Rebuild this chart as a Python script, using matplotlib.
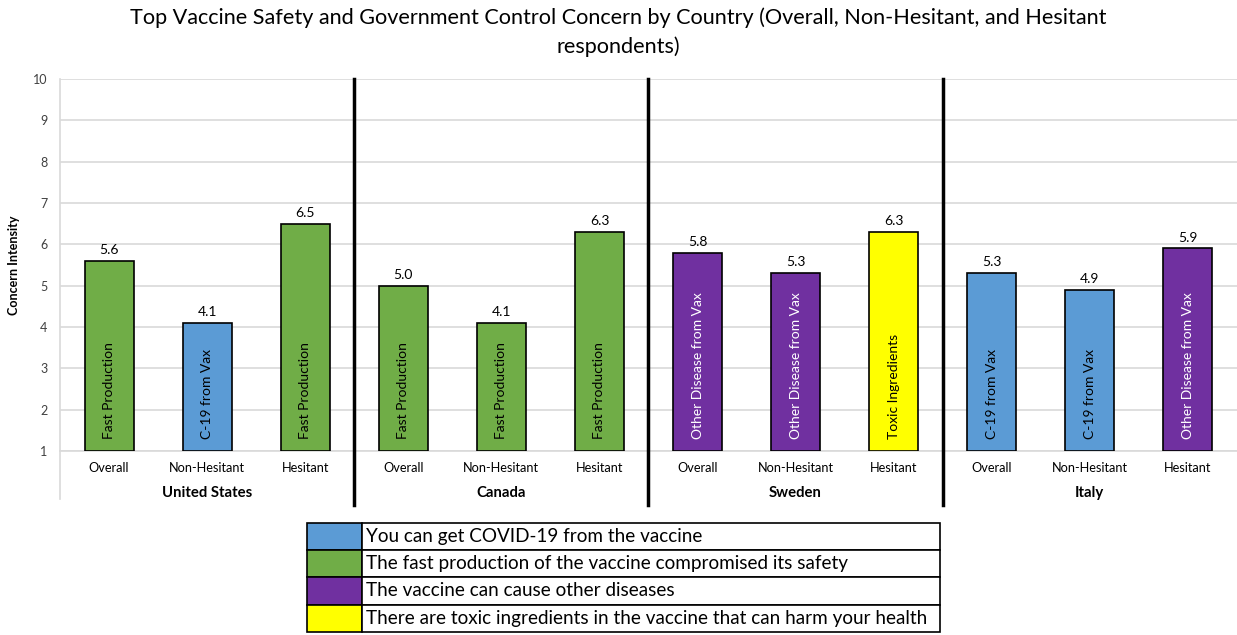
"""Top vaccine safety concern by country, grouped bar chart."""

import matplotlib
matplotlib.use("Agg")
import matplotlib.pyplot as plt
from matplotlib.patches import Rectangle
import numpy as np

plt.rcParams['font.family'] = ['Lato', 'DejaVu Sans']

countries = ['United States', 'Canada', 'Sweden', 'Italy']
groups = ['Overall', 'Non-Hesitant', 'Hesitant']
values = [5.6, 4.1, 6.5,
          5.0, 4.1, 6.3,
          5.8, 5.3, 6.3,
          5.3, 4.9, 5.9]
concern = ['fast', 'c19', 'fast',
           'fast', 'fast', 'fast',
           'other', 'other', 'toxic',
           'c19', 'c19', 'other']

short_names = {'c19': 'C-19 from Vax', 'fast': 'Fast Production',
               'other': 'Other Disease from Vax', 'toxic': 'Toxic Ingredients'}
colors = {'c19': '#5B9BD5', 'fast': '#70AD47', 'other': '#7030A0', 'toxic': '#FFFF00'}
text_colors = {'c19': 'black', 'fast': 'black', 'other': 'white', 'toxic': 'black'}
legend_keys = ['c19', 'fast', 'other', 'toxic']
legend_labels = ['You can get COVID-19 from the vaccine',
                 'The fast production of the vaccine compromised its safety',
                 'The vaccine can cause other diseases',
                 'There are toxic ingredients in the vaccine that can harm your health']

W, H = 1237, 635
fig = plt.figure(figsize=(W / 100, H / 100), dpi=100)
ax = fig.add_axes([60 / W, 1 - 451 / H, 1 - 60 / W, (451 - 79) / H])

x = np.arange(len(values))
base = 1
ax.bar(x, np.array(values) - base, bottom=base, width=0.5,
       color=[colors[c] for c in concern], edgecolor='black', linewidth=1.2, zorder=3)

for xi, v, c in zip(x, values, concern):
    ax.text(xi, v + 0.12, f'{v:.1f}', ha='center', va='bottom', fontsize=10, zorder=4)
    ax.text(xi, base + 0.3, short_names[c], rotation=90, ha='center', va='bottom',
            fontsize=10, color=text_colors[c], zorder=4)

ax.set_xlim(-0.5, len(values) - 0.5)
ax.set_ylim(1, 10)
ax.set_yticks(range(1, 11))
ax.tick_params(axis='y', length=0, labelsize=9, labelcolor='#404040', pad=9)
ax.set_xticks([])
ax.yaxis.grid(True, color='#d9d9d9', linewidth=1.2, zorder=0)
for s in ['top', 'right']:
    ax.spines[s].set_visible(False)
ax.spines['bottom'].set_color('#d9d9d9')
ax.spines['bottom'].set_linewidth(1.2)
ax.spines['left'].set_visible(False)
ax.set_ylabel('Concern Intensity', fontsize=9, fontweight='bold', labelpad=9)

tr = ax.get_xaxis_transform()
# left axis line, extending down through the category labels
ax.plot([-0.5, -0.5], [1, -0.13], transform=tr, color='#d9d9d9', lw=1.2, clip_on=False)
for i, g in enumerate(x):
    ax.text(g, -0.047, groups[i % 3], transform=tr, ha='center', va='center', fontsize=9.2)
for k, name in enumerate(countries):
    ax.text(3 * k + 1, -0.112, name, transform=tr, ha='center', va='center',
            fontsize=10.7, fontweight='bold')
    if k > 0:
        ax.plot([3 * k - 0.5] * 2, [1, -0.145], transform=tr, color='black',
                lw=2.5, clip_on=False, zorder=5)

fig.text(0.5, 1 - 18 / H, 'Top Vaccine Safety and Government Control Concern by Country '
         '(Overall, Non-Hesitant, and Hesitant', ha='center', va='center', fontsize=15.6)
fig.text(0.5, 1 - 47 / H, 'respondents)', ha='center', va='center', fontsize=15.6)

# legend drawn as a table of colour cells and labels
lx0, lx1, lx2 = 307, 362, 940
ly0, row_h = 523, 27.2
for i, (key, lab) in enumerate(zip(legend_keys, legend_labels)):
    top = ly0 + i * row_h
    fig.patches.append(Rectangle((lx0 / W, 1 - (top + row_h) / H), (lx1 - lx0) / W, row_h / H,
                                 transform=fig.transFigure, facecolor=colors[key],
                                 edgecolor='black', linewidth=1.2))
    fig.patches.append(Rectangle((lx1 / W, 1 - (top + row_h) / H), (lx2 - lx1) / W, row_h / H,
                                 transform=fig.transFigure, facecolor='white',
                                 edgecolor='black', linewidth=1.2))
    fig.text((lx1 + 4) / W, 1 - (top + row_h / 2) / H, lab, ha='left', va='center', fontsize=13.6)

fig.savefig('out.png', dpi=100)
